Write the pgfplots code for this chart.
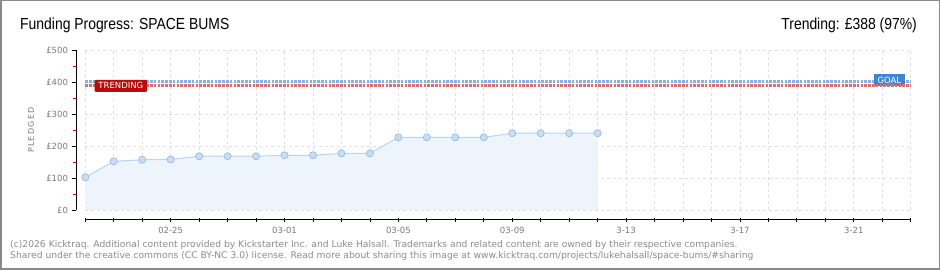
\documentclass[border=0pt]{standalone}
\usepackage{pgfplots}
\pgfplotsset{compat=1.18}
\usepackage{fontspec}
\setmainfont{DejaVu Sans}
\newfontfamily\titlefont[FakeStretch=0.87]{Liberation Sans}
\newfontfamily\footfont{DejaVu Sans}
\definecolor{framegray}{HTML}{8A8A8A}
\definecolor{tickgray}{HTML}{7A7A7A}
\definecolor{footgray}{HTML}{8C8C8C}
\definecolor{gridgray}{HTML}{E0E0E0}
\definecolor{areablue}{HTML}{EDF4FC}
\definecolor{lineblue}{HTML}{B9D4F1}
\definecolor{markfill}{HTML}{C6DDF6}
\definecolor{markdraw}{HTML}{9BB5D3}
\definecolor{goalblue}{HTML}{86B2E2}
\definecolor{trendred}{HTML}{E36C6C}
\definecolor{trendbox}{HTML}{B80C0C}
\definecolor{goalbox}{HTML}{3D86D6}
\begin{document}
\begin{tikzpicture}[x=1pt,y=1pt]
\draw[fill=white, draw=framegray, line width=1.5pt] (0.75pt,0.75pt) rectangle (939.25pt,269.25pt);
% main plot
\begin{axis}[at={(85.3pt,60pt)}, anchor=south west, scale only axis,
  width=825.4pt, height=160pt,
  xmin=0, xmax=29, ymin=0, ymax=500,
  axis line style={draw=none},
  xtick={0,...,29}, ytick={0,100,...,500},
  xticklabel={\relax}, yticklabel={\relax},
  major tick length=0pt,
  grid=major,
  major grid style={draw=gridgray, dash pattern=on 3pt off 3pt, line width=0.7pt},
  clip=false]
\addplot[fill=areablue, draw=none] coordinates {
 (0,102) (1,152) (2,157) (3,158) (4,168) (5,168) (6,168) (7,171) (8,171) (9,177)
 (10,177) (11,227) (12,227) (13,227) (14,227) (15,240) (16,240) (17,240) (18,240)
} \closedcycle;
\addplot[color=lineblue, line width=1pt, mark=*, mark size=3.6pt,
  mark options={fill=markfill, draw=markdraw, line width=0.6pt}] coordinates {
 (0,102) (1,152) (2,157) (3,158) (4,168) (5,168) (6,168) (7,171) (8,171) (9,177)
 (10,177) (11,227) (12,227) (13,227) (14,227) (15,240) (16,240) (17,240) (18,240)
};
\addplot[goalblue, line width=3pt, dash pattern=on 2.6pt off 1.2pt] coordinates {(0,400) (29,400)};
\node[fill=goalbox, text=white, font=\fontsize{8.5}{8.5}\selectfont, inner xsep=3.5pt, inner ysep=2pt, minimum height=11.5pt] at (axis cs:28.25,406) {GOAL};
\addplot[trendred, line width=3pt, dash pattern=on 2.6pt off 1.2pt] coordinates {(0,388) (29,388)};
\node[fill=trendbox, text=white, font=\fontsize{8.5}{8.5}\selectfont, inner xsep=3.8pt, inner ysep=2pt, minimum height=12pt, rounded corners=1pt] at (axis cs:1.25,388) {TRENDING};
\end{axis}
% x axis
\begin{axis}[at={(85.3pt,50pt)}, anchor=south west, scale only axis,
  width=825.4pt, height=10pt,
  xmin=0, xmax=29, ymin=0, ymax=1,
  axis x line*=bottom, axis y line=none,
  x axis line style={line width=1pt},
  xtick={0,...,29}, ytick=\empty,
  xticklabels={,,,02-25,,,,03-01,,,,03-05,,,,03-09,,,,3-13,,,,3-17,,,,3-21,,},
  xtick align=center, major tick length=4.5pt,
  tick style={black, line width=0.8pt},
  xticklabel style={font=\fontsize{8.5}{8.5}\selectfont, text=tickgray, yshift=-1pt}]
\end{axis}
% y axis
\begin{axis}[at={(76pt,60pt)}, anchor=south west, scale only axis,
  width=10pt, height=160pt,
  xmin=0, xmax=1, ymin=0, ymax=500,
  axis y line*=left, axis x line=none,
  y axis line style={line width=1pt},
  xtick=\empty, ytick={0,100,...,500},
  minor ytick={50,150,...,450},
  yticklabels={£0,£100,£200,£300,£400,£500},
  ytick align=outside, major tick length=4.5pt, minor tick length=3.5pt,
  major tick style={black, line width=0.8pt},
  minor tick style={red, line width=0.8pt},
  yticklabel style={font=\fontsize{8.5}{8.5}\selectfont, text=tickgray}]
\end{axis}
\node[rotate=90, font=\fontsize{8}{8}\selectfont, text=tickgray] at (31pt,140pt) {P\,L\,E\,D\,G\,E\,D};
\node[anchor=base west, inner sep=0pt, font=\titlefont\fontsize{16}{16}\selectfont] at (20pt,240pt) {Funding Progress: SPACE BUMS};
\node[anchor=base east, inner sep=0pt, font=\titlefont\fontsize{16}{16}\selectfont] at (917pt,240pt) {Trending: £388 (97\%)};
\node[anchor=base west, inner sep=0pt, font=\footfont\fontsize{9.2}{9.2}\selectfont, text=footgray] at (10pt,22.5pt) {(c)2026 Kicktraq. Additional content provided by Kickstarter Inc. and Luke Halsall. Trademarks and related content are owned by their respective companies.};
\node[anchor=base west, inner sep=0pt, font=\footfont\fontsize{9.2}{9.2}\selectfont, text=footgray] at (10pt,11.3pt) {Shared under the creative commons (CC BY-NC 3.0) license. Read more about sharing this image at www.kicktraq.com/projects/lukehalsall/space-bums/\#sharing};
\end{tikzpicture}
\end{document}
